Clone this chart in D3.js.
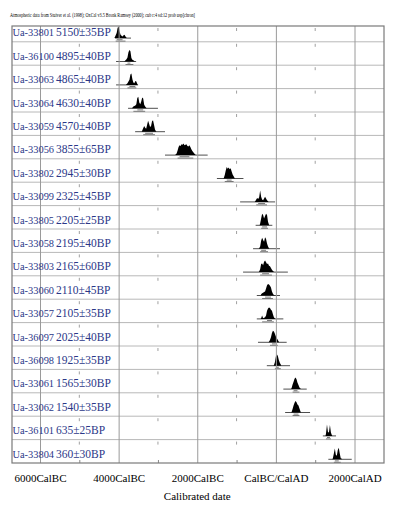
<!DOCTYPE html>
<html>
<head>
<meta charset="utf-8">
<script src="https://cdn.jsdelivr.net/npm/d3@7"></script>
<style>
  body { margin: 0; background: #fff; }
  svg { display: block; }
</style>
</head>
<body>
<div id="chart"></div>
<script>
const width = 395;
const height = 506;

// sample names and radiocarbon ages
const labs = ["Ua-33801", "Ua-36100", "Ua-33063", "Ua-33064", "Ua-33059", "Ua-33056", "Ua-33802",
  "Ua-33099", "Ua-33805", "Ua-33058", "Ua-33803", "Ua-33060", "Ua-33057", "Ua-36097", "Ua-36098",
  "Ua-33061", "Ua-33062", "Ua-36101", "Ua-33804"];
const ages = [5150, 4895, 4865, 4630, 4570, 3855, 2945, 2325, 2205, 2195, 2165, 2110, 2105, 2025, 1925, 1565, 1540, 635, 360];
const errs = [35, 40, 40, 40, 40, 65, 30, 45, 25, 40, 60, 45, 35, 40, 35, 30, 35, 25, 30];

// calibrated probability, one value every 25 years from distFrom (BC negative)
const step = 25;
const distFrom = [-4100, -3850, -3800, -3650, -3400, -2550, -1325, -525, -400, -425, -425, -375, -375, -175, -50, 400, 400, 1275, 1450];
const dists = [
  [0.05, 0.25, 0.45, 0.9, 1.0, 0.55, 0.3, 0.2, 0.15, 0.25, 0.3, 0.15, 0.03],
  [0.03, 0.1, 0.2, 0.35, 0.8, 1.0, 0.9, 0.3, 0.15, 0.1, 0.05],
  [0.05, 0.15, 0.3, 0.45, 0.9, 1.0, 0.5, 0.2, 0.15, 0.35, 0.3, 0.08],
  [0.05, 0.15, 0.2, 0.25, 0.35, 0.9, 1.0, 0.5, 0.35, 0.6, 0.95, 0.85, 0.3, 0.15, 0.05],
  [0.1, 0.3, 0.5, 0.35, 0.25, 0.6, 0.95, 0.7, 0.4, 0.5, 0.9, 1.0, 0.6, 0.2, 0.05],
  [0.05, 0.15, 0.4, 0.7, 0.85, 0.8, 0.95, 0.9, 1.0, 0.85, 0.9, 0.95, 0.8, 0.75, 0.85, 0.7, 0.5, 0.35, 0.25, 0.15, 0.05],
  [0.05, 0.3, 0.7, 1.0, 0.85, 0.95, 0.8, 0.9, 0.6, 0.35, 0.2, 0.05],
  [0.05, 0.2, 0.35, 0.25, 0.4, 1.0, 0.45, 0.2, 0.15, 0.3, 0.45, 0.3, 0.15, 0.05],
  [0.15, 0.6, 1.0, 0.9, 0.6, 0.8, 1.0, 0.9, 0.3, 0.05],
  [0.05, 0.2, 0.7, 0.95, 0.75, 0.6, 1.0, 0.85, 0.45, 0.2, 0.05],
  [0.05, 0.25, 0.7, 0.75, 0.6, 0.9, 1.0, 0.85, 0.7, 0.75, 0.55, 0.5, 0.35, 0.2, 0.1, 0.03],
  [0.1, 0.2, 0.25, 0.3, 0.35, 0.6, 0.9, 1.0, 0.95, 0.85, 0.7, 0.35, 0.15, 0.05, 0.02],
  [0.05, 0.3, 0.05, 0.1, 0.15, 0.3, 0.7, 0.9, 1.0, 0.95, 0.8, 0.7, 0.4, 0.15, 0.03],
  [0.05, 0.2, 0.45, 0.8, 1.0, 0.95, 0.75, 0.5, 0.35, 0.2, 0.05],
  [0.05, 0.3, 0.8, 1.0, 0.85, 0.5, 0.25, 0.1],
  [0.1, 0.4, 0.65, 0.9, 1.0, 0.85, 0.55, 0.35, 0.15, 0.05],
  [0.05, 0.3, 0.6, 0.85, 1.0, 0.9, 0.7, 0.6, 0.35, 0.1],
  [0.2, 1.0, 0.35, 0.3, 0.95, 0.3, 0.05],
  [0.1, 0.5, 0.95, 0.4, 0.3, 0.8, 1.0, 0.5, 0.1, 0.05]
];
// extent of the line drawn under each distribution
const lineFrom = [-4090, -4065, -4065, -3760, -3580, -2820, -1500, -910, -515, -580, -835, -485, -485, -455, -230, 190, 235, 1195, 1335];
const lineTo = [-3685, -3555, -3505, -3000, -2820, -1735, -825, -20, -90, 105, 305, 105, 190, 275, 360, 785, 870, 1530, 1930];

const gridYears = [-6000, -4000, -2000, 0, 2000];
const minorYears = [-5000, -3000, -1000, 1000];

const frame = { left: 12, right: 384, top: 26, bottom: 463 };

const x = d3.scaleLinear()
    .domain([-6000, 2000])
    .range([40, 354.5]);
const y = d3.scaleBand()
    .domain(labs)
    .range([18.4, frame.bottom]);
const h = d3.scaleLinear()
    .domain([0, 1])
    .range([0, 11.5]);

const svg = d3.select("#chart")
  .append("svg")
    .attr("width", width)
    .attr("height", height);

svg.append("text")
    .attr("x", 10)
    .attr("y", 17)
    .attr("textLength", 185)
    .attr("lengthAdjust", "spacingAndGlyphs")
    .style("font", "5.5px 'Liberation Serif', serif")
    .text("Atmospheric data from Stuiver et al. (1998); OxCal v3.5 Bronk Ramsey (2000); cub r:4 sd:12 prob usp[chron]");

svg.append("clipPath").attr("id", "clip")
  .append("rect")
    .attr("x", frame.left).attr("y", frame.top)
    .attr("width", frame.right - frame.left)
    .attr("height", frame.bottom - frame.top);

const plot = svg.append("g").attr("clip-path", "url(#clip)");

// row separators
plot.selectAll(".row")
  .data(labs.slice(1))
  .join("line")
    .attr("x1", frame.left).attr("x2", frame.right)
    .attr("y1", d => y(d)).attr("y2", d => y(d))
    .attr("stroke", "#b8b8b8");

// small ticks at each row top
labs.forEach(l => {
  plot.selectAll(null)
    .data(minorYears)
    .join("line")
      .attr("x1", d => x(d)).attr("x2", d => x(d))
      .attr("y1", Math.max(y(l), frame.top) + 2)
      .attr("y2", Math.max(y(l), frame.top) + 5)
      .attr("stroke", "#a0a0a0");
});

// vertical grid lines
svg.append("g")
    .attr("transform", `translate(0,${frame.bottom})`)
    .call(d3.axisBottom(x).tickValues(gridYears).tickSize(-(frame.bottom - frame.top)).tickFormat(""))
    .call(g => g.select(".domain").remove())
    .call(g => g.selectAll("line").attr("stroke", "#9a9a9a"));

// bottom minor ticks
svg.append("g")
    .attr("transform", `translate(0,${frame.bottom})`)
    .call(d3.axisBottom(x).tickValues(minorYears).tickSize(-3).tickFormat(""))
    .call(g => g.select(".domain").remove())
    .call(g => g.selectAll("line").attr("stroke", "#888"));

// labels
const labelG = svg.append("g")
    .style("font-family", "'Liberation Serif', 'Times New Roman', serif")
    .attr("fill", "#2b3788");
labelG.selectAll(".nm")
  .data(labs)
  .join("text")
    .attr("x", 12.5)
    .attr("y", d => y(d) + y.bandwidth() - 5.5)
    .style("font-size", "10.4px")
    .text(d => d);
labelG.selectAll(".bp")
  .data(labs)
  .join("text")
    .attr("x", 56)
    .attr("y", d => y(d) + y.bandwidth() - 5.5)
    .style("font-size", "11.5px")
    .text((d, i) => `${ages[i]}±${errs[i]}BP`);

// distributions
const area = d3.area()
    .x(d => x(d[0]))
    .y0(0)
    .y1(d => -h(d[1]))
    .curve(d3.curveLinear);

labs.forEach((l, i) => {
  const base = y(l) + y.bandwidth() - 3.7;
  const pts = dists[i].map((p, k) => [distFrom[i] + k * step, p]);
  const pad = [[distFrom[i] - step / 2, 0], ...pts, [distFrom[i] + (pts.length - 1) * step + step / 2, 0]];
  const g = plot.append("g").attr("transform", `translate(0,${base})`);
  g.append("line")
      .attr("x1", x(lineFrom[i])).attr("x2", x(lineTo[i]))
      .attr("stroke", "#222").attr("stroke-width", 0.8);
  g.append("path")
      .datum(pad)
      .attr("d", area)
      .attr("fill", "#000");

  // 68% and 95% ranges from the cumulative probability
  const tot = d3.sum(dists[i]);
  let c = 0;
  const cum = dists[i].map(p => (c += p) / tot);
  const q = f => distFrom[i] + d3.bisectLeft(cum, f) * step;
  [[0.16, 0.84, 1.6], [0.025, 0.975, 3]].forEach(([a, b, dy]) => {
    g.append("line")
        .attr("x1", x(q(a))).attr("x2", x(q(b)))
        .attr("y1", dy).attr("y2", dy)
        .attr("stroke", "#777").attr("stroke-width", 1);
  });
});

// frame
svg.append("rect")
    .attr("x", frame.left).attr("y", frame.top)
    .attr("width", frame.right - frame.left)
    .attr("height", frame.bottom - frame.top)
    .attr("fill", "none")
    .attr("stroke", "#7a7a7a")
    .attr("stroke-width", 1.2);

// axis labels
svg.append("g")
    .attr("transform", `translate(0,${frame.bottom})`)
    .call(d3.axisBottom(x).tickValues(gridYears).tickSize(0).tickPadding(11)
      .tickFormat(d => d < 0 ? `${-d}CalBC` : d === 0 ? "CalBC/CalAD" : `${d}CalAD`))
    .call(g => g.select(".domain").remove())
    .call(g => g.selectAll("text")
      .attr("fill", "#000")
      .style("font", "11px 'Liberation Serif', 'Times New Roman', serif"));

svg.append("text")
    .attr("x", x(-2000))
    .attr("y", 500)
    .attr("text-anchor", "middle")
    .style("font", "11px 'Liberation Serif', 'Times New Roman', serif")
    .text("Calibrated date");
</script>
</body>
</html>
